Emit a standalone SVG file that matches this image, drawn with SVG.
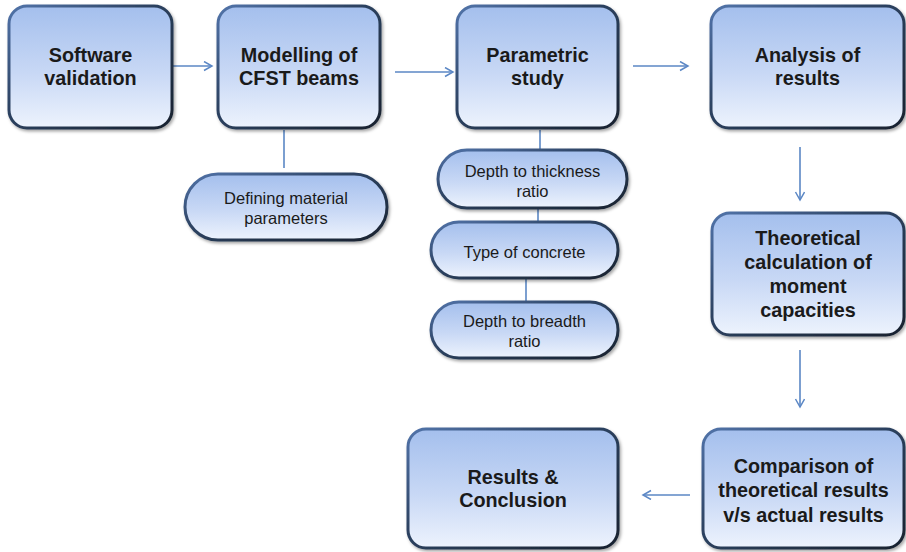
<svg xmlns="http://www.w3.org/2000/svg" width="906" height="552" viewBox="0 0 906 552">
<defs>
<linearGradient id="fillG" x1="0" y1="0" x2="0" y2="1">
<stop offset="0" stop-color="#a4bfed"/>
<stop offset="0.55" stop-color="#c8d8f5"/>
<stop offset="1" stop-color="#edf3fd"/>
</linearGradient>
<linearGradient id="strokeG" x1="0" y1="0" x2="1" y2="1">
<stop offset="0" stop-color="#5274aa"/>
<stop offset="0.4" stop-color="#2e4464"/>
<stop offset="1" stop-color="#18222f"/>
</linearGradient>
<filter id="sh" x="-10%" y="-10%" width="125%" height="130%">
<feDropShadow dx="1.5" dy="2" stdDeviation="1.5" flood-color="#000" flood-opacity="0.35"/>
</filter>
<marker id="arr" markerWidth="12" markerHeight="12" refX="9" refY="5" orient="auto" markerUnits="userSpaceOnUse">
<path d="M1,0.5 L9,5 L1,9.5" fill="none" stroke="#5b87c5" stroke-width="1.5"/>
</marker>
<style>
.box{fill:url(#fillG);stroke:url(#strokeG);stroke-width:3;filter:url(#sh);}
.big{font-family:"Liberation Sans",Arial,sans-serif;font-weight:bold;font-size:19.8px;fill:#1a1a1a;text-anchor:middle;}
.small{font-family:"Liberation Sans",Arial,sans-serif;font-size:16.5px;fill:#1a1a1a;text-anchor:middle;}
.con{stroke:#5b87c5;stroke-width:1.6;fill:none;}
</style>
</defs>
<g id="connectors">
<line class="con" x1="173" y1="66" x2="212" y2="66" marker-end="url(#arr)"/>
<line class="con" x1="395" y1="72" x2="453" y2="72" marker-end="url(#arr)"/>
<line class="con" x1="633" y1="66" x2="688" y2="66" marker-end="url(#arr)"/>
<line class="con" x1="800" y1="147" x2="800" y2="200" marker-end="url(#arr)"/>
<line class="con" x1="800" y1="350" x2="800" y2="407" marker-end="url(#arr)"/>
<line class="con" x1="690" y1="495" x2="643" y2="495" marker-end="url(#arr)"/>
<line class="con" x1="284" y1="130" x2="284" y2="168"/>
<line class="con" x1="540" y1="130" x2="540" y2="151"/>
<line class="con" x1="538" y1="208" x2="538" y2="223"/>
<line class="con" x1="526" y1="278" x2="526" y2="303"/>
</g>
<g id="software">
<rect class="box" x="9" y="6" width="163" height="122" rx="18"/>
<text class="big" x="90.5" y="62">Software</text>
<text class="big" x="90.5" y="85">validation</text>
</g>
<g id="modelling">
<rect class="box" x="218" y="6" width="162" height="122" rx="18"/>
<text class="big" x="299" y="62">Modelling of</text>
<text class="big" x="299" y="85">CFST beams</text>
</g>
<g id="parametric">
<rect class="box" x="457" y="6" width="161" height="122" rx="18"/>
<text class="big" x="537.5" y="62">Parametric</text>
<text class="big" x="537.5" y="85">study</text>
</g>
<g id="analysis">
<rect class="box" x="711" y="6" width="193" height="122" rx="18"/>
<text class="big" x="807.5" y="62">Analysis of</text>
<text class="big" x="807.5" y="85">results</text>
</g>
<g id="theoretical">
<rect class="box" x="712" y="213" width="192" height="122" rx="18"/>
<text class="big" x="808" y="245">Theoretical</text>
<text class="big" x="808" y="269">calculation of</text>
<text class="big" x="808" y="293">moment</text>
<text class="big" x="808" y="317">capacities</text>
</g>
<g id="comparison">
<rect class="box" x="703" y="429" width="201" height="119" rx="18"/>
<text class="big" x="803.5" y="473">Comparison of</text>
<text class="big" x="803.5" y="497">theoretical results</text>
<text class="big" x="803.5" y="522">v/s actual results</text>
</g>
<g id="results">
<rect class="box" x="408" y="429" width="210" height="119" rx="18"/>
<text class="big" x="513" y="484">Results &amp;</text>
<text class="big" x="513" y="507">Conclusion</text>
</g>
<g id="defining">
<rect class="box" x="185" y="174" width="202" height="66" rx="33"/>
<text class="small" x="286" y="204">Defining material</text>
<text class="small" x="286" y="224">parameters</text>
</g>
<g id="depth-thickness">
<rect class="box" x="438" y="150" width="189" height="58" rx="29"/>
<text class="small" x="532.5" y="177">Depth to thickness</text>
<text class="small" x="532.5" y="197">ratio</text>
</g>
<g id="concrete">
<rect class="box" x="431" y="222" width="187" height="56" rx="28"/>
<text class="small" x="524.5" y="258">Type of concrete</text>
</g>
<g id="depth-breadth">
<rect class="box" x="431" y="302" width="187" height="56" rx="28"/>
<text class="small" x="524.5" y="327">Depth to breadth</text>
<text class="small" x="524.5" y="347">ratio</text>
</g>
</svg>
